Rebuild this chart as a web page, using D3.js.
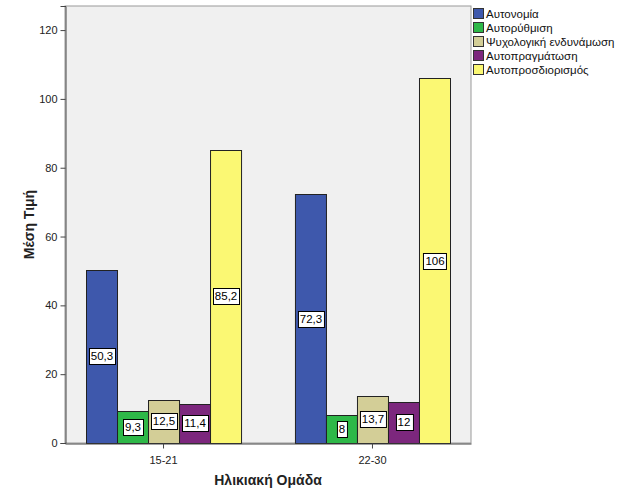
<!DOCTYPE html>
<html><head><meta charset="utf-8">
<script src="https://cdn.jsdelivr.net/npm/d3@7"></script>
<style>body{margin:0;background:#fff;font-family:Arial,"Liberation Sans",sans-serif;}</style>
</head><body><svg id="c" width="629" height="504"></svg>
<script>
const groups = ["15-21", "22-30"];
const seriesNames = ["Αυτονομία", "Αυτορύθμιση", "Ψυχολογική ενδυνάμωση", "Αυτοπραγμάτωση", "Αυτοπροσδιορισμός"];
const values15_21 = [50.3, 9.3, 12.5, 11.4, 85.2];
const values22_30 = [72.3, 8, 13.7, 12, 106];
const valueLabels15_21 = ["50,3", "9,3", "12,5", "11,4", "85,2"];
const valueLabels22_30 = ["72,3", "8", "13,7", "12", "106"];
const yTicks = [0, 20, 40, 60, 80, 100, 120];
const colors = ["#3e58ac", "#2eb848", "#d3ce97", "#7c277d", "#fbf873"];

const svg = d3.select("#c");
const L = 65, R = 471, T = 6, B = 443;

const x0 = d3.scaleBand().domain(groups).range([L, R]).paddingInner(0.258).paddingOuter(0.1005);
const x1 = d3.scaleBand().domain(seriesNames).range([0, x0.bandwidth()]);
const y = d3.scaleLinear().domain([0, 127]).range([B, T]);

svg.append("rect").attr("x", L).attr("y", T).attr("width", R - L).attr("height", B - T)
  .attr("fill", "#f0f0f0").attr("stroke", "#9a9a9a").attr("stroke-width", 1);

const data = [
  {g: groups[0], vals: values15_21, labs: valueLabels15_21},
  {g: groups[1], vals: values22_30, labs: valueLabels22_30}
];

const labelLayer = [];
data.forEach(d => {
  const gg = svg.append("g").attr("transform", `translate(${x0(d.g)},0)`);
  d.vals.forEach((v, i) => {
    gg.append("rect").attr("x", x1(seriesNames[i]) + 0.5).attr("y", Math.round(y(v)) + 0.5)
      .attr("width", x1.bandwidth()).attr("height", B - Math.round(y(v)))
      .attr("fill", colors[i]).attr("stroke", "#222").attr("stroke-width", 1);
  });
  d.vals.forEach((v, i) => {
    const cx = x1(seriesNames[i]) + x1.bandwidth() / 2 + 0.5;
    const cy = (y(v) + B) / 2;
    const box = gg.append("rect");
    const t = gg.append("text").attr("x", cx).attr("y", cy + 4).attr("text-anchor", "middle")
      .attr("font-size", "11.5px").attr("fill", "#000").text(d.labs[i]);
    const bb = t.node().getBBox();
    box.attr("x", Math.round(bb.x - 2) + 0.5).attr("y", Math.round(cy - 8) + 0.5)
      .attr("width", Math.round(bb.width + 4)).attr("height", 16)
      .attr("fill", "#fff").attr("stroke", "#000").attr("stroke-width", 1);
  });
});

// Y axis
const yAxis = svg.append("g").attr("transform", `translate(${L + 0.5},0)`)
  .call(d3.axisLeft(y).tickValues(yTicks).tickSize(5).tickFormat(d3.format("d")));
yAxis.select(".domain").attr("stroke", "#444");
yAxis.selectAll(".tick line").attr("stroke", "#444");
yAxis.selectAll("text").attr("font-size", "11px").attr("fill", "#222").attr("font-family", "Arial, Liberation Sans, sans-serif");

// X axis
const xAxis = svg.append("g").attr("transform", `translate(0,${B + 0.5})`)
  .call(d3.axisBottom(x0).tickSize(5).tickSizeOuter(0));
xAxis.select(".domain").attr("stroke", "#444");
xAxis.selectAll(".tick line").attr("stroke", "#444");
xAxis.selectAll("text").attr("font-size", "11px").attr("fill", "#222").attr("dy", "1.1em").attr("font-family", "Arial, Liberation Sans, sans-serif");

// Axis titles
svg.append("text").attr("x", (L + R) / 2).attr("y", 485).attr("text-anchor", "middle")
  .attr("font-size", "14px").attr("font-weight", "bold").attr("fill", "#222").text("Ηλικιακή Ομάδα");
svg.append("text").attr("transform", `translate(34,${(T + B) / 2}) rotate(-90)`).attr("text-anchor", "middle")
  .attr("font-size", "14px").attr("font-weight", "bold").attr("fill", "#222").text("Μέση Τιμή");

// Legend
const lg = svg.append("g").attr("transform", "translate(473,8)");
seriesNames.forEach((n, i) => {
  lg.append("rect").attr("x", 0.5).attr("y", i * 14 + 0.5).attr("width", 10).attr("height", 10)
    .attr("fill", colors[i]).attr("stroke", "#333").attr("stroke-width", 1);
  lg.append("text").attr("x", 13).attr("y", i * 14 + 10).attr("font-size", "11.5px").attr("fill", "#111").text(n);
});
</script></body></html>
